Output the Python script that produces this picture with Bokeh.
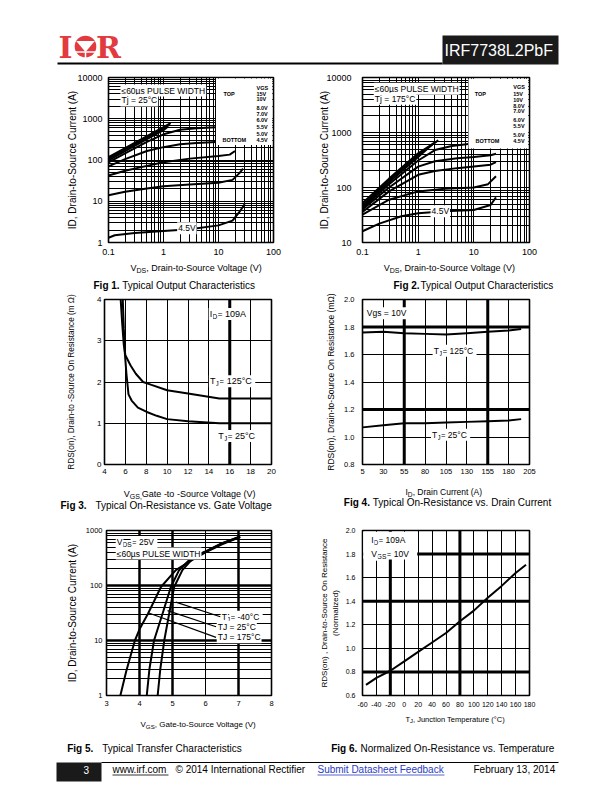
from bokeh.plotting import figure
from bokeh.layouts import column, row
from bokeh.models import FixedTicker, CustomJSTickFormatter, Range1d, Span, Label, BoxAnnotation
from bokeh.embed import file_html
from bokeh.resources import INLINE
from bokeh.core.properties import value

FONT = "Liberation Sans"
RED = "#e23a3f"
LINK = "#2b3cc4"

# ---------------- Fig 1 : output characteristics, Tj = 25 C ----------------
f1_xticks = [0.1, 1, 10, 100]
f1_yticks = [1, 10, 100, 1000, 10000]
f1_vds_15 = [0.1, 0.2, 0.5, 1.0, 1.35]
f1_id_15 = [118, 195, 380, 627, 780]
f1_vds_10 = [0.1, 0.2, 0.5, 1.0, 1.3]
f1_id_10 = [108, 180, 350, 580, 720]
f1_vds_8 = [0.1, 0.2, 0.5, 1.0, 1.2]
f1_id_8 = [98, 165, 320, 530, 640]
f1_vds_7 = [0.1, 0.2, 0.5, 1.0, 2.0, 4.0, 9.0]
f1_id_7 = [88, 145, 275, 420, 540, 590, 620]
f1_vds_6 = [0.1, 0.2, 0.5, 1.0, 2.0, 4.0, 9.0]
f1_id_6 = [70, 105, 165, 205, 240, 260, 275]
f1_vds_55 = [0.1, 0.2, 0.5, 1.0, 3.0, 10, 16, 20]
f1_id_55 = [42, 55, 72, 88, 108, 125, 135, 165]
f1_vds_5 = [0.1, 0.2, 0.5, 1.0, 3.0, 10, 18, 24, 28]
f1_id_5 = [14, 17, 20.5, 23, 25.5, 28, 33, 48, 62]
f1_vds_45 = [0.1, 0.13, 0.3, 1.0, 3.0, 10, 18, 24, 30]
f1_id_45 = [1.3, 1.5, 1.7, 1.9, 2.1, 2.6, 3.4, 5.5, 8.5]
legend_left = ["TOP", "BOTTOM"]
legend_right = ["VGS", "15V", "10V", "8.0V", "7.0V", "6.0V", "5.5V", "5.0V", "4.5V"]

# ---------------- Fig 2 : output characteristics, Tj = 175 C ----------------
f2_xticks = [0.1, 1, 10, 100]
f2_yticks = [10, 100, 1000, 10000]
f2_vds_15 = [0.1, 0.3, 1.0, 2.3]
f2_id_15 = [52, 145, 420, 720]
f2_vds_10 = [0.1, 0.3, 1.0, 2.1]
f2_id_10 = [48, 135, 390, 680]
f2_vds_8 = [0.1, 0.3, 1.0, 1.9]
f2_id_8 = [45, 125, 360, 640]
f2_vds_7 = [0.1, 0.3, 1.0, 2.0, 4.0, 8.0]
f2_id_7 = [42, 115, 310, 480, 570, 615]
f2_vds_6 = [0.1, 0.3, 1.0, 2.0, 5.0, 10, 20, 25]
f2_id_6 = [40, 100, 240, 300, 340, 360, 385, 410]
f2_vds_55 = [0.1, 0.3, 1.0, 2.0, 5.0, 10, 20, 25]
f2_id_55 = [36, 85, 170, 200, 225, 240, 260, 290]
f2_vds_5 = [0.1, 0.3, 1.0, 3.0, 10, 18, 25]
f2_id_5 = [32, 60, 85, 95, 100, 115, 160]
f2_vds_45 = [0.1, 0.2, 0.5, 1.0, 3.0, 10, 20, 25]
f2_id_45 = [16, 22, 30, 34, 37, 39, 48, 66]

# ---------------- Fig 3 : RDS(on) vs VGS ----------------
f3_xticks = [4, 6, 8, 10, 12, 14, 16, 18, 20]
f3_yticks = [0, 1, 2, 3, 4]
f3_vgs_125 = [5.55, 5.7, 5.85, 6.0, 6.5, 7.0, 7.7, 8.5, 10, 12, 15, 20]
f3_r_125 = [4.0, 3.4, 2.9, 2.65, 2.4, 2.2, 2.0, 1.93, 1.8, 1.72, 1.6, 1.6]
f3_vgs_25 = [5.75, 5.85, 5.95, 6.1, 6.3, 6.6, 7.2, 8.0, 9.0, 10, 12, 15, 20]
f3_r_25 = [4.0, 3.3, 2.7, 2.2, 1.7, 1.55, 1.38, 1.28, 1.18, 1.1, 1.05, 1.0, 1.0]
f3_heavy_x = [16]

# ---------------- Fig 4 : RDS(on) vs ID ----------------
f4_xticks = [5, 30, 55, 80, 105, 130, 155, 180, 205]
f4_yticks = [0.8, 1.0, 1.2, 1.4, 1.6, 1.8, 2.0]
f4_id = [5, 30, 55, 80, 105, 130, 155, 180, 195]
f4_r_125 = [1.76, 1.765, 1.755, 1.75, 1.745, 1.755, 1.765, 1.775, 1.785]
f4_r_25 = [1.07, 1.085, 1.10, 1.10, 1.105, 1.11, 1.115, 1.12, 1.13]
f4_heavy_x = [55, 155]
f4_heavy_y = [1.2, 1.8]

# ---------------- Fig 5 : transfer characteristics ----------------
f5_xticks = [3, 4, 5, 6, 7, 8]
f5_yticks = [1, 10, 100, 1000]
f5_vgs_175 = [3.42, 3.6, 3.86, 4.0, 4.26, 4.65, 5.1, 5.5, 6.0, 6.5, 7.05]
f5_id_175 = [1, 2.8, 10, 16, 31, 94, 190, 270, 400, 560, 760]
f5_vgs_25 = [4.22, 4.3, 4.44, 4.7, 4.95, 5.2, 5.6, 6.0, 6.5, 7.05]
f5_id_25 = [1, 3, 10, 31, 94, 190, 330, 410, 580, 770]
f5_vgs_m40 = [4.55, 4.63, 4.75, 4.9, 5.05, 5.3, 5.65, 6.0, 6.5, 7.05]
f5_id_m40 = [1, 3, 10, 31, 94, 190, 330, 415, 590, 780]
f5_leader_x0 = [5.1, 4.85, 4.26]
f5_leader_y0 = [50, 35, 32]
f5_leader_x1 = [6.45, 6.32, 6.32]
f5_leader_y1 = [27, 17.8, 11.4]
f5_heavy_x = [4, 5, 7]
f5_heavy_y = [10, 100]

# ---------------- Fig 6 : normalized RDS(on) vs Tj ----------------
f6_xticks = [-60, -40, -20, 0, 20, 40, 60, 80, 100, 120, 140, 160, 180]
f6_yticks = [0.6, 0.8, 1.0, 1.2, 1.4, 1.6, 1.8, 2.0]
f6_tj = [-55, -40, -20, 0, 20, 40, 60, 80, 100, 120, 140, 160, 175]
f6_rn = [0.69, 0.75, 0.81, 0.89, 0.97, 1.05, 1.13, 1.23, 1.32, 1.43, 1.53, 1.64, 1.71]
f6_heavy_x = [-20, 80]
f6_heavy_y = [0.8, 1.4, 1.8]

FMT_PLAIN = "return String(tick);"
FMT_ONE = "return tick.toFixed(1);"

CW = {"I": .278, "D": .722, "T": .611, "J": .5, "V": .667, "G": .778, "S": .667, ",": .278, " ": .278}


def tw(s, size):
    return sum(CW.get(c, .556) for c in s) * size


def log_minor(e0, e1):
    return [k * 10.0 ** e for e in range(e0, e1) for k in range(2, 10)]


def chart(w, h, borders, xr, yr, xtype, ytype, xticks, yticks, xminor, yminor,
          xfmt, yfmt, tick_px, xstand, ystand, ylabel, ylabel_px, ylabel_stand):
    bl, br, bt, bb = borders
    p = figure(width=w, height=h, x_range=Range1d(*xr), y_range=Range1d(*yr),
               x_axis_type=xtype, y_axis_type=ytype, output_backend="svg",
               toolbar_location=None, min_border_left=bl, min_border_right=br,
               min_border_top=bt, min_border_bottom=bb)
    p.background_fill_color = "white"
    p.border_fill_color = "white"
    p.outline_line_color = "black"
    p.outline_line_width = 1.6
    xt = FixedTicker(ticks=xticks, minor_ticks=xminor)
    yt = FixedTicker(ticks=yticks, minor_ticks=yminor)
    for ax, t, fmt, st in ((p.xaxis[0], xt, xfmt, xstand), (p.yaxis[0], yt, yfmt, ystand)):
        ax.ticker = t
        ax.formatter = CustomJSTickFormatter(code=fmt)
        ax.axis_line_color = None
        ax.major_tick_line_color = None
        ax.minor_tick_line_color = None
        ax.major_tick_in = 0
        ax.major_tick_out = 0
        ax.minor_tick_in = 0
        ax.minor_tick_out = 0
        ax.major_label_standoff = st
        ax.major_label_text_font = FONT
        ax.major_label_text_font_size = f"{tick_px}px"
        ax.major_label_text_color = "black"
    ya = p.yaxis[0]
    ya.axis_label = ylabel
    ya.axis_label_text_font = FONT
    ya.axis_label_text_font_style = "normal"
    ya.axis_label_text_font_size = f"{ylabel_px}px"
    ya.axis_label_text_color = "black"
    ya.axis_label_standoff = ylabel_stand
    p.xgrid[0].ticker = xt
    p.ygrid[0].ticker = yt
    for g in (p.xgrid[0], p.ygrid[0]):
        g.grid_line_color = "black"
        g.grid_line_width = 1
        g.grid_line_alpha = 1
    if xminor:
        p.xgrid[0].minor_grid_line_color = "black"
        p.xgrid[0].minor_grid_line_width = 1
    if yminor:
        p.ygrid[0].minor_grid_line_color = "black"
        p.ygrid[0].minor_grid_line_width = 1
    return p


def curve(p, xs, ys, w=2):
    p.line(xs, ys, line_color="black", line_width=w)


def heavy(p, xs=(), ys=(), w=3):
    for v in xs:
        p.add_layout(Span(location=v, dimension="height", line_color="black", line_width=w))
    for v in ys:
        p.add_layout(Span(location=v, dimension="width", line_color="black", line_width=w))


def lab(p, x, y, s, size, dx=0, dy=0, bg=True, align="left", bold=False):
    p.add_layout(Label(x=x, y=y, text=s, x_offset=dx, y_offset=dy, text_font=FONT,
                       text_font_size=f"{size}px", text_color="black", text_align=align,
                       text_baseline="middle", text_font_style="bold" if bold else "normal",
                       background_fill_color="white" if bg else None, padding=1))


def slab(p, x, y, main, sub, rest, size, bg=True):
    ss = round(size * 0.78, 1)
    w1 = tw(main, size)
    w2 = tw(sub, ss)
    lab(p, x, y, rest, size, w1 + w2, 0, bg)
    lab(p, x, y, sub, ss, w1, -size * 0.3, bg)
    lab(p, x, y, main, size, 0, 0, bg)


def band(w, h):
    p = figure(width=w, height=h, x_range=Range1d(0, w), y_range=Range1d(h, 0),
               output_backend="svg", toolbar_location=None, x_axis_location=None,
               y_axis_location=None, min_border=0)
    p.grid.visible = False
    p.outline_line_color = None
    p.background_fill_color = "white"
    p.border_fill_color = "white"
    return p


def btext(p, x, y, s, size, bold=False, color="black", align="left", font=FONT, baseline="middle"):
    p.text(x=[x], y=[y], text=[s], text_font=value(font), text_font_size=f"{size}px",
           text_font_style="bold" if bold else "normal", text_color=color,
           text_align=align, text_baseline=baseline)


def bsub(p, x, y, main, sub, rest, size):
    ss = round(size * 0.78, 1)
    w1 = tw(main, size)
    w2 = tw(sub, ss)
    btext(p, x, y, main, size)
    btext(p, x + w1, y + size * 0.3, sub, ss)
    btext(p, x + w1 + w2, y, rest, size)


PW = 604  # page content width (x = page pixel)

# ================= Header =================
hdr = band(PW, 70)
btext(hdr, 65, 47, "I", 30, bold=True, color=RED, align="center", font="DejaVu Serif")
btext(hdr, 108, 47, "R", 30, bold=True, color=RED, align="center", font="DejaVu Serif")
hdr.circle(x=[85], y=[46], radius=10.8, fill_color=RED, line_color=None)
hdr.patch(x=[75.7, 94.3, 85], y=[40.5, 40.5, 51.5], fill_color="white", line_color=None)
hdr.segment(x0=[74.2], y0=[51.5], x1=[95.8], y1=[51.5], line_color="white", line_width=1.5)
hdr.segment(x0=[85], y0=[51.5], x1=[85], y1=[57.5], line_color="white", line_width=1.5)
hdr.segment(x0=[57], y0=[63], x1=[442], y1=[63], line_color="black", line_width=2)
hdr.quad(left=[442], right=[558], top=[35], bottom=[64], fill_color="#1a1a1a", line_color=None)
btext(hdr, 444, 50, "IRF7738L2PbF", 16, color="white")

# ================= Fig 1 =================
p1 = chart(306, 190, (108, 33, 7, 18), (0.1, 100), (1, 10000), "log", "log",
           f1_xticks, f1_yticks, log_minor(-1, 2), log_minor(0, 4), FMT_PLAIN, FMT_PLAIN,
           9, 6, 6, "ID, Drain-to-Source Current (A)", 10, -4)
for xs, ys in ((f1_vds_15, f1_id_15), (f1_vds_10, f1_id_10), (f1_vds_8, f1_id_8),
               (f1_vds_7, f1_id_7), (f1_vds_6, f1_id_6), (f1_vds_55, f1_id_55),
               (f1_vds_5, f1_id_5), (f1_vds_45, f1_id_45)):
    curve(p1, xs, ys)
p1.add_layout(BoxAnnotation(left=9, right=95, bottom=230, top=9500, fill_color="white",
                            fill_alpha=1, line_color=None))
lab(p1, 0.165, 4840, "\u226460\u00b5s PULSE WIDTH", 8.5)
lab(p1, 0.165, 2770, "Tj = 25\u00b0C", 8.5)
lab(p1, 1.77, 2.22, "4.5V", 8.5)
f1_leg_y = [5620, 4030, 2930, 1842, 1340, 907, 638, 432, 297]
for t, yv in zip(legend_right, f1_leg_y):
    lab(p1, 47, yv, t, 5.5, bg=False, bold=True)
lab(p1, 11.8, 4030, legend_left[0], 5.5, bg=False, bold=True)
lab(p1, 11.3, 297, legend_left[1], 5.5, bg=False, bold=True)

# ================= Fig 2 =================
p2 = chart(298, 190, (56, 75, 7, 18), (0.1, 100), (10, 10000), "log", "log",
           f2_xticks, f2_yticks, log_minor(-1, 2), log_minor(1, 4), FMT_PLAIN, FMT_PLAIN,
           9, 6, 11, "ID, Drain-to-Source Current (A)", 10, -7)
for xs, ys in ((f2_vds_15, f2_id_15), (f2_vds_10, f2_id_10), (f2_vds_8, f2_id_8),
               (f2_vds_7, f2_id_7), (f2_vds_6, f2_id_6), (f2_vds_55, f2_id_55),
               (f2_vds_5, f2_id_5), (f2_vds_45, f2_id_45)):
    curve(p2, xs, ys)
p2.add_layout(BoxAnnotation(left=8, right=95, bottom=512, top=9500, fill_color="white",
                            fill_alpha=1, line_color=None))
lab(p2, 0.16, 6240, "\u226460\u00b5s PULSE WIDTH", 8.5)
lab(p2, 0.16, 4100, "Tj = 175\u00b0C", 8.5)
lab(p2, 1.67, 37, "4.5V", 8.5)
f2_leg_y = [6860, 4910, 3940, 3010, 2410, 1700, 1286, 908, 706]
for t, yv in zip(legend_right, f2_leg_y):
    lab(p2, 49, yv, t, 5.5, bg=False, bold=True)
lab(p2, 10.0, 4910, legend_left[0], 5.5, bg=False, bold=True)
lab(p2, 10.3, 706, legend_left[1], 5.5, bg=False, bold=True)

# ================= Fig 3 =================
p3 = chart(306, 190, (104, 35, 7, 18), (4, 20), (0, 4), "linear", "linear",
           f3_xticks, f3_yticks, [], [], FMT_PLAIN, FMT_PLAIN,
           8, 4, 3, "RDS(on), Drain-to -Source On Resistance (m \u03a9)", 8.2, 18)
curve(p3, f3_vgs_125, f3_r_125)
curve(p3, f3_vgs_25, f3_r_25)
heavy(p3, xs=f3_heavy_x)
slab(p3, 13.98, 3.65, "I", "D", " = 109A", 9)
slab(p3, 14.0, 2.02, "T", "J", " = 125\u00b0C", 9)
slab(p3, 14.8, 0.69, "T", "J", " = 25\u00b0C", 9)

# ================= Fig 4 =================
p4 = chart(298, 190, (56, 75, 7, 18), (5, 205), (0.8, 2.0), "linear", "linear",
           f4_xticks, f4_yticks, [], [], FMT_PLAIN, FMT_ONE,
           7.5, 4, 8, "RDS(on), Drain-to-Source On Resistance (m\u03a9)", 8.5, 5)
curve(p4, f4_id, f4_r_125)
curve(p4, f4_id, f4_r_25)
heavy(p4, xs=f4_heavy_x, ys=f4_heavy_y)
lab(p4, 9, 1.90, "Vgs = 10V", 8.5)
slab(p4, 89, 1.627, "T", "J", " = 125\u00b0C", 8.5)
slab(p4, 87, 1.017, "T", "J", " = 25\u00b0C", 8.5)

# ================= Fig 5 =================
p5 = chart(306, 202, (106, 35, 18, 19), (3, 8), (1, 1000), "linear", "log",
           f5_xticks, f5_yticks, [], log_minor(0, 3), FMT_PLAIN, FMT_PLAIN,
           7.5, 5, 4, "ID, Drain-to-Source Current (A)", 10, 5)
heavy(p5, xs=f5_heavy_x, ys=f5_heavy_y, w=2.5)
curve(p5, f5_vgs_175, f5_id_175)
curve(p5, f5_vgs_25, f5_id_25)
curve(p5, f5_vgs_m40, f5_id_m40)
p5.segment(x0=f5_leader_x0, y0=f5_leader_y0, x1=f5_leader_x1, y1=f5_leader_y1,
           line_color="black", line_width=1.2)
slab(p5, 3.28, 617, "V", "DS", " = 25V", 8.5)
lab(p5, 3.28, 380, "\u226460\u00b5s PULSE WIDTH", 8.5)
slab(p5, 6.46, 27, "T", "J", " = -40\u00b0C", 8.5)
lab(p5, 6.34, 17.8, "TJ = 25\u00b0C", 8.5)
lab(p5, 6.34, 11.4, "TJ = 175\u00b0C", 8.5)

# ================= Fig 6 =================
p6 = chart(298, 202, (56, 75, 18, 19), (-60, 180), (0.6, 2.0), "linear", "linear",
           f6_xticks, f6_yticks, [], [], FMT_PLAIN, FMT_ONE,
           7, 6, 7, "RDS(on) , Drain-to-Source On Resistance\n(Normalized)", 8, 3)
heavy(p6, xs=f6_heavy_x, ys=f6_heavy_y)
curve(p6, f6_tj, f6_rn)
p6.add_layout(BoxAnnotation(left=-59, right=18.6, bottom=1.76, top=1.99, fill_color="white",
                            fill_alpha=1, line_color=None))
slab(p6, -49, 1.917, "I", "D", " = 109A", 8.5)
slab(p6, -49, 1.804, "V", "GS", " = 10V", 8.5)

# ================= caption / label bands (x = page pixel) =================
b1 = band(PW, 32)
bsub(b1, 130, 7, "V", "DS", ", Drain-to-Source Voltage (V)", 9)
bsub(b1, 383.3, 7, "V", "DS", ", Drain-to-Source Voltage (V)", 9)
btext(b1, 93, 24.5, "Fig 1.", 10, bold=True)
btext(b1, 121.7, 24.5, "Typical Output Characteristics", 10)
btext(b1, 393, 24.5, "Fig 2.", 10, bold=True)
btext(b1, 420, 24.5, "Typical Output Characteristics", 10)

b2 = band(PW, 30)
bsub(b2, 123.3, 11.3, "V", "GS,", " Gate -to -Source Voltage  (V)", 9)
bsub(b2, 405, 9.7, "I", "D", ", Drain Current (A)", 8.5)
btext(b2, 60, 23, "Fig 3.", 10, bold=True)
btext(b2, 95, 23, "Typical On-Resistance vs. Gate Voltage", 10)
btext(b2, 343.3, 19.7, "Fig 4.", 10, bold=True)
btext(b2, 372.3, 19.7, "Typical On-Resistance vs. Drain Current", 10)

b3 = band(PW, 70)
bsub(b3, 140, 10, "V", "GS", ", Gate-to-Source Voltage (V)", 8)
bsub(b3, 405, 4.6, "T", "J", " , Junction Temperature (\u00b0C)", 7.5)
btext(b3, 66.7, 34.3, "Fig 5.", 10, bold=True)
btext(b3, 101.7, 34.3, "Typical Transfer Characteristics", 10)
btext(b3, 330.7, 34.3, "Fig 6.", 10, bold=True)
btext(b3, 360, 34.3, "Normalized On-Resistance vs. Temperature", 10)
b3.quad(left=[56], right=[101], top=[48], bottom=[67], fill_color="#1a1a1a", line_color=None)
b3.segment(x0=[101], y0=[48], x1=[558], y1=[48], line_color="black", line_width=1)
btext(b3, 83, 55, "3", 10, color="white")
btext(b3, 112, 55, "www.irf.com", 10)
b3.segment(x0=[112], y0=[60.5], x1=[168], y1=[60.5], line_color="black", line_width=0.8)
btext(b3, 175, 55, "\u00a9 2014 International Rectifier", 10)
btext(b3, 317, 55, "Submit Datasheet Feedback", 10, color=LINK)
b3.segment(x0=[317], y0=[60.5], x1=[444], y1=[60.5], line_color=LINK, line_width=0.8)
btext(b3, 473, 55, "February 13, 2014", 10)

page = column(hdr, row(p1, p2), b1, row(p3, p4), b2, row(p5, p6), b3)
open("out.html", "w").write(file_html(page, INLINE, "IRF7738L2PbF"))
